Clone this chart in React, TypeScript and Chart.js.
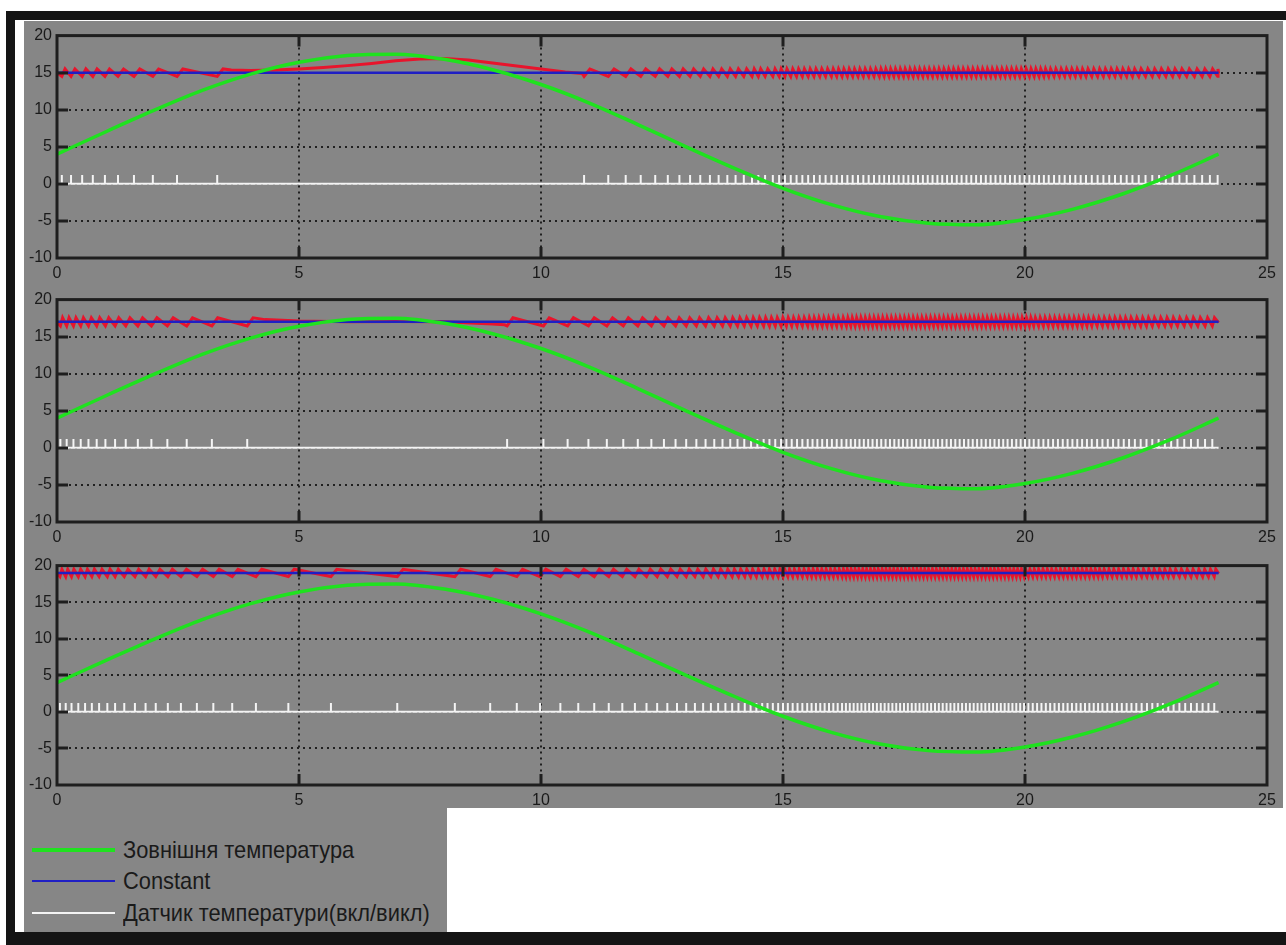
import React, { useEffect, useRef } from "react";
import { Chart, registerables } from "chart.js";

Chart.register(...registerables);

// ---------- data ----------
const X_TICKS = [0, 5, 10, 15, 20, 25];
const Y_TICKS = [-10, -5, 0, 5, 10, 15, 20];

const HOURS = [0, 1, 2, 3, 4, 5, 6, 7, 8, 9, 10, 11, 12, 13, 14, 15, 16, 17, 18, 19, 20, 21, 22, 23, 24];
const OUTSIDE_TEMP = [4.0, 7.0, 9.9, 12.6, 14.8, 16.4, 17.3, 17.5, 16.8, 15.4, 13.4, 10.9, 8.0, 5.0, 2.1, -0.6, -2.8, -4.4, -5.3, -5.5, -4.8, -3.4, -1.4, 1.1, 4.0];

const SETPOINTS = [15, 17, 19];
const RIPPLE = [0.5, 0.55, 0.5];
const SENSOR_ON = 1.2;
const END_TIME = 24;

const SPIKES_1 = [0.1, 0.29, 0.52, 0.74, 0.99, 1.26, 1.59, 1.98, 2.48, 3.31,
  10.89, 11.39, 11.75, 12.06, 12.36, 12.62, 12.86, 13.08, 13.29, 13.49, 13.67, 13.85, 14.02, 14.19, 14.36, 14.49, 14.63, 14.79, 14.92, 15.04, 15.16, 15.28,
  15.4, 15.52, 15.64, 15.76, 15.88, 16.0, 16.11, 16.22, 16.33, 16.44, 16.55, 16.66, 16.77, 16.88, 16.99, 17.09, 17.19, 17.29, 17.39, 17.49, 17.59, 17.69, 17.79, 17.89, 17.99,
  18.09, 18.19, 18.29, 18.39, 18.49, 18.59, 18.69, 18.79, 18.89, 18.99, 19.09, 19.19, 19.29, 19.39, 19.49, 19.59, 19.69, 19.79, 19.89, 19.99,
  20.09, 20.19, 20.29, 20.39, 20.49, 20.6, 20.71, 20.82, 20.93, 21.04, 21.15, 21.26, 21.38, 21.5, 21.62, 21.74, 21.86, 21.98,
  22.1, 22.22, 22.35, 22.49, 22.63, 22.77, 22.91, 23.05, 23.19, 23.34, 23.5, 23.66, 23.82, 23.98];

const SPIKES_2 = [0.07, 0.2, 0.34, 0.49, 0.65, 0.82, 1.0, 1.2, 1.42, 1.67, 1.95, 2.28, 2.68, 3.2, 3.93,
  9.3, 10.05, 10.55, 10.98, 11.36, 11.7, 12.0, 12.28, 12.54, 12.78, 13.0, 13.21, 13.4, 13.58, 13.75, 13.91, 14.06, 14.2, 14.34, 14.47, 14.6, 14.72, 14.84, 14.96,
  15.07, 15.18, 15.29, 15.4, 15.51, 15.61, 15.71, 15.81, 15.91, 16.01, 16.11, 16.21, 16.31, 16.4, 16.49, 16.58, 16.67, 16.76, 16.85, 16.94,
  17.03, 17.12, 17.21, 17.3, 17.39, 17.48, 17.57, 17.66, 17.75, 17.84, 17.93, 18.02, 18.11, 18.2, 18.29, 18.38, 18.47, 18.56, 18.65, 18.74, 18.83, 18.92,
  19.01, 19.1, 19.19, 19.28, 19.37, 19.46, 19.55, 19.64, 19.73, 19.82, 19.91, 20.0, 20.09, 20.18, 20.28, 20.38, 20.48, 20.58, 20.68, 20.78, 20.88, 20.98,
  21.08, 21.18, 21.28, 21.38, 21.49, 21.6, 21.71, 21.82, 21.93, 22.04, 22.15, 22.27, 22.39, 22.51, 22.63, 22.76, 22.89, 23.02, 23.15, 23.29, 23.43, 23.57, 23.72, 23.87];

const SPIKES_3 = [0.06, 0.18, 0.3, 0.44, 0.58, 0.72, 0.87, 1.04, 1.2, 1.39, 1.61, 1.83, 2.04, 2.29, 2.56, 2.89, 3.23, 3.62, 4.11, 4.78, 5.66, 7.03, 8.22, 8.95,
  9.5, 9.98, 10.4, 10.77, 11.1, 11.4, 11.68, 11.94, 12.18, 12.4, 12.61, 12.81, 13.0, 13.18, 13.35, 13.51, 13.66, 13.81, 13.95, 14.08, 14.21, 14.33, 14.45, 14.57, 14.68, 14.79, 14.9,
  15.0, 15.1, 15.2, 15.3, 15.4, 15.5, 15.59, 15.68, 15.77, 15.86, 15.95, 16.04, 16.13, 16.22, 16.3, 16.38, 16.46, 16.54, 16.62, 16.7, 16.78, 16.86, 16.94,
  17.02, 17.1, 17.18, 17.26, 17.34, 17.42, 17.5, 17.58, 17.66, 17.74, 17.82, 17.9, 17.98, 18.06, 18.14, 18.22, 18.3, 18.38, 18.46, 18.54, 18.62, 18.7, 18.78, 18.86, 18.94,
  19.02, 19.1, 19.18, 19.26, 19.34, 19.42, 19.5, 19.58, 19.66, 19.74, 19.82, 19.9, 19.98, 20.07, 20.16, 20.25, 20.34, 20.43, 20.52, 20.61, 20.7, 20.79, 20.88, 20.97,
  21.06, 21.15, 21.24, 21.33, 21.42, 21.51, 21.6, 21.7, 21.8, 21.9, 22.0, 22.1, 22.2, 22.3, 22.41, 22.52, 22.63, 22.74, 22.85, 22.96,
  23.07, 23.19, 23.31, 23.43, 23.55, 23.67, 23.79, 23.91];

// free-running room temperature (heater idle) segments
const FREE_AFTER = [3.31, 3.93, -1];
const FREE_T_1 = [3.6, 4.0, 4.5, 5.0, 5.5, 6.0, 6.5, 7.0, 7.5, 8.0, 8.5, 9.0, 9.5, 10.0, 10.5, 10.85];
const FREE_V_1 = [15.35, 15.3, 15.35, 15.5, 15.7, 15.95, 16.25, 16.6, 16.85, 16.9, 16.7, 16.3, 15.9, 15.5, 15.1, 14.9];
const FREE_T_2 = [4.3, 5.0, 6.0, 7.0, 8.0, 9.0, 9.25];
const FREE_V_2 = [17.3, 17.1, 17.0, 17.05, 17.0, 16.7, 16.6];

const LEGEND_LABELS = ["Зовнішня температура", "Constant", "Датчик температури(вкл/викл)"];

const GREEN = "#1fe21f";
const BLUE = "#1f1fc4";
const RED = "#e8142c";
const WHITE = "#f4f4f4";
const GRAY = "#868686";
const INK = "#1a1a1a";

// ---------- builders ----------
type P = { x: number; y: number };

function roomTemp(spikes: number[], set: number, amp: number, freeAfter: number, freeT: number[], freeV: number[]): P[] {
  const pts: P[] = [{ x: 0, y: set }];
  spikes.forEach((t, i) => {
    const next = i < spikes.length - 1 ? spikes[i + 1] : END_TIME;
    const rise = Math.min(0.35 * (next - t), 0.12);
    pts.push({ x: t, y: set - amp }, { x: t + rise, y: set + amp });
    if (t === freeAfter) freeT.forEach((ft, k) => pts.push({ x: ft, y: freeV[k] }));
  });
  pts.push({ x: END_TIME, y: set - amp * 0.2 });
  return pts;
}

function sensor(spikes: number[]): P[] {
  const pts: P[] = [{ x: 0, y: 0 }];
  spikes.forEach((t) => pts.push({ x: t, y: 0 }, { x: t, y: SENSOR_ON }, { x: t, y: 0 }));
  pts.push({ x: END_TIME, y: 0 });
  return pts;
}

const framePlugin = {
  id: "scopeFrame",
  beforeDatasetsDraw(chart: any) {
    const { ctx, chartArea, scales } = chart;
    const { left, right, top, bottom } = chartArea;
    ctx.save();
    ctx.strokeStyle = "#202020";
    ctx.lineWidth = 2;
    ctx.setLineDash([2, 4]);
    scales.x.ticks.forEach((t: any) => {
      if (t.value <= scales.x.min || t.value >= scales.x.max) return;
      const px = Math.round(scales.x.getPixelForValue(t.value));
      ctx.beginPath();
      ctx.moveTo(px, top);
      ctx.lineTo(px, bottom);
      ctx.stroke();
    });
    scales.y.ticks.forEach((t: any) => {
      if (t.value <= scales.y.min || t.value >= scales.y.max) return;
      const py = Math.round(scales.y.getPixelForValue(t.value));
      ctx.beginPath();
      ctx.moveTo(left, py);
      ctx.lineTo(right, py);
      ctx.stroke();
    });
    ctx.restore();
  },
  afterDatasetsDraw(chart: any) {
    const { ctx, chartArea, scales } = chart;
    const { left, right, top, bottom } = chartArea;
    ctx.save();
    ctx.strokeStyle = "#1e1e1e";
    ctx.lineWidth = 3;
    ctx.strokeRect(left, top, right - left, bottom - top);
    const TL = 11;
    scales.x.ticks.forEach((t: any) => {
      if (t.value <= scales.x.min || t.value >= scales.x.max) return;
      const px = Math.round(scales.x.getPixelForValue(t.value));
      ctx.beginPath();
      ctx.moveTo(px, bottom);
      ctx.lineTo(px, bottom - TL);
      ctx.moveTo(px, top);
      ctx.lineTo(px, top + TL);
      ctx.stroke();
    });
    scales.y.ticks.forEach((t: any) => {
      if (t.value <= scales.y.min || t.value >= scales.y.max) return;
      const py = Math.round(scales.y.getPixelForValue(t.value));
      ctx.beginPath();
      ctx.moveTo(left, py);
      ctx.lineTo(left + TL, py);
      ctx.moveTo(right, py);
      ctx.lineTo(right - TL, py);
      ctx.stroke();
    });
    ctx.restore();
  },
};

const SPIKES = [SPIKES_1, SPIKES_2, SPIKES_3];
const FREE_T = [FREE_T_1, FREE_T_2, []];
const FREE_V = [FREE_V_1, FREE_V_2, []];

function Scope({ idx, top, height, xAxisH }: { idx: number; top: number; height: number; xAxisH: number }) {
  const ref = useRef<HTMLCanvasElement>(null);
  useEffect(() => {
    const set = SETPOINTS[idx];
    const tickFont = { family: "'Liberation Sans', Arial, sans-serif", size: 16 };
    const chart = new Chart(ref.current as HTMLCanvasElement, {
      type: "line",
      data: {
        datasets: [
          {
            label: LEGEND_LABELS[0],
            data: HOURS.map((h, i) => ({ x: h, y: OUTSIDE_TEMP[i] })),
            borderColor: GREEN,
            borderWidth: 3.5,
            pointRadius: 0,
            cubicInterpolationMode: "monotone",
            order: 0,
          },
          {
            label: LEGEND_LABELS[1],
            data: [{ x: 0, y: set }, { x: END_TIME, y: set }],
            borderColor: BLUE,
            borderWidth: 2.5,
            pointRadius: 0,
            order: 1,
          },
          {
            label: "room",
            data: roomTemp(SPIKES[idx], set, RIPPLE[idx], FREE_AFTER[idx], FREE_T[idx], FREE_V[idx]),
            borderColor: RED,
            borderWidth: 3,
            pointRadius: 0,
            tension: 0,
            order: 2,
          },
          {
            label: LEGEND_LABELS[2],
            data: sensor(SPIKES[idx]),
            borderColor: WHITE,
            borderWidth: 2,
            pointRadius: 0,
            tension: 0,
            order: 3,
          },
        ],
      } as any,
      options: {
        responsive: false,
        animation: false,
        devicePixelRatio: 1,
        events: [],
        layout: { padding: { top: 12, right: 16, left: 0, bottom: 0 } },
        plugins: { legend: { display: false }, tooltip: { enabled: false } },
        scales: {
          x: {
            type: "linear",
            min: X_TICKS[0],
            max: X_TICKS[X_TICKS.length - 1],
            grid: { display: false, drawTicks: false },
            border: { display: false },
            ticks: { color: INK, font: tickFont, padding: 6, maxRotation: 0, autoSkip: false },
            afterBuildTicks: (s: any) => {
              s.ticks = X_TICKS.map((v) => ({ value: v }));
            },
            afterFit: (s: any) => {
              s.height = xAxisH;
            },
          },
          y: {
            type: "linear",
            min: Y_TICKS[0],
            max: Y_TICKS[Y_TICKS.length - 1],
            grid: { display: false, drawTicks: false },
            border: { display: false },
            ticks: { color: INK, font: tickFont, padding: 5, autoSkip: false },
            afterBuildTicks: (s: any) => {
              s.ticks = Y_TICKS.map((v) => ({ value: v }));
            },
            afterFit: (s: any) => {
              s.width = 33;
            },
          },
        },
      } as any,
      plugins: [framePlugin],
    });
    return () => chart.destroy();
  }, [idx, xAxisH]);
  return (
    <canvas
      ref={ref}
      width={1259}
      height={height}
      style={{ position: "absolute", left: 24, top, width: 1259, height, display: "block" }}
    />
  );
}

const LEGEND_COLORS = [GREEN, BLUE, WHITE];
const LEGEND_WIDTHS = [4, 2.5, 2.5];
const LEGEND_Y = [850, 881, 913];

export default function App() {
  return (
    <div style={{ position: "fixed", left: 0, top: 0, width: 1286, height: 945, background: "#ffffff", overflow: "hidden" }}>
      <div style={{ position: "absolute", left: 6, top: 11, width: 1280, height: 934, background: "#151515" }} />
      <div style={{ position: "absolute", left: 15, top: 20, width: 1271, height: 912, background: "#ffffff" }} />
      <div style={{ position: "absolute", left: 24, top: 21, width: 1259, height: 787, background: GRAY }} />
      <div style={{ position: "absolute", left: 24, top: 808, width: 423, height: 124, background: GRAY }} />
      <Scope idx={0} top={21} height={261} xAxisH={24} />
      <Scope idx={1} top={285} height={261} xAxisH={24} />
      <Scope idx={2} top={551} height={257} xAxisH={23} />
      {LEGEND_LABELS.map((label, i) => (
        <React.Fragment key={label}>
          <div
            style={{
              position: "absolute",
              left: 32,
              top: LEGEND_Y[i] - LEGEND_WIDTHS[i] / 2,
              width: 83,
              height: LEGEND_WIDTHS[i],
              background: LEGEND_COLORS[i],
            }}
          />
          <div
            style={{
              position: "absolute",
              left: 123,
              top: LEGEND_Y[i] - 15,
              height: 30,
              lineHeight: "30px",
              fontFamily: "'Liberation Sans', Arial, sans-serif",
              fontSize: 24,
              color: INK,
              whiteSpace: "nowrap",
              transform: "scaleX(0.91)",
              transformOrigin: "0 50%",
            }}
          >
            {label}
          </div>
        </React.Fragment>
      ))}
    </div>
  );
}
